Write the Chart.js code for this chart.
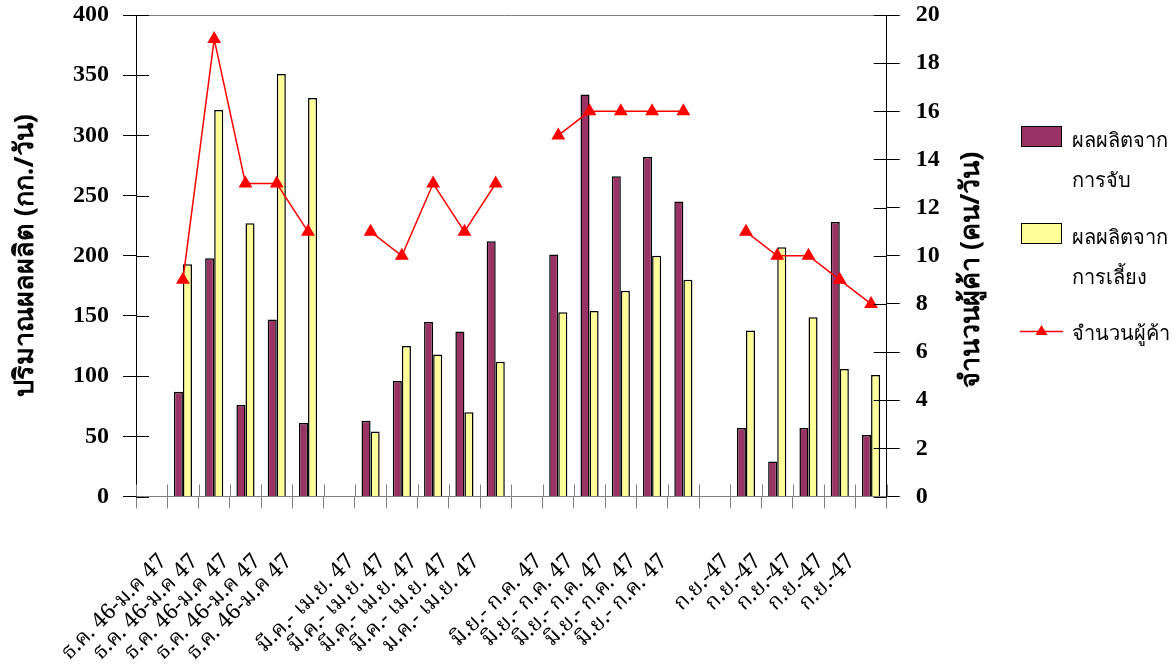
<!DOCTYPE html>
<html>
<head>
<meta charset="utf-8">
<script src="https://cdn.jsdelivr.net/npm/chart.js@4.4.0/dist/chart.umd.min.js"></script>
<style>
  html, body { margin: 0; padding: 0; background: #fff; }
  #wrap { position: relative; width: 1176px; height: 670px; }
  .sw { position: absolute; width: 39px; height: 19px; border: 1px solid #000; }
  .lt { position: absolute; font-family: "Noto Sans", "DejaVu Sans", sans-serif; font-size: 20px; line-height: 40px; color: #000; white-space: nowrap; }
</style>
</head>
<body>
<div id="wrap">
  <canvas id="chart" width="1176" height="670"></canvas>
  <div id="legend"></div>
</div>
<script>
// x categories (empty slots separate the four periods)
const categories = [
  '', 'ธ.ค. 46-ม.ค 47', 'ธ.ค. 46-ม.ค 47', 'ธ.ค. 46-ม.ค 47', 'ธ.ค. 46-ม.ค 47', 'ธ.ค. 46-ม.ค 47',
  '', 'มี.ค.- เม.ย. 47', 'มี.ค.- เม.ย. 47', 'มี.ค.- เม.ย. 47', 'มี.ค.- เม.ย. 47', 'ม.ค.- เม.ย. 47',
  '', 'มิ.ย.- ก.ค. 47', 'มิ.ย.- ก.ค. 47', 'มิ.ย.- ก.ค. 47', 'มิ.ย.- ก.ค. 47', 'มิ.ย.- ก.ค. 47',
  '', 'ก.ย.-47', 'ก.ย.-47', 'ก.ย.-47', 'ก.ย.-47', 'ก.ย.-47'
];
const catchOutput = [null, 87, 198, 76, 147, 61, null, 63, 96, 145, 137, 212, null, 201, 334, 266, 282, 245, null, 57, 29, 57, 228, 51];
const farmOutput  = [null, 193, 321, 227, 351, 331, null, 54, 125, 118, 70, 112, null, 153, 154, 171, 200, 180, null, 138, 207, 149, 106, 101];
const traders     = [null, 9, 19, 13, 13, 11, null, 11, 10, 13, 11, 13, null, 15, 16, 16, 16, 16, null, 11, 10, 10, 9, 8];

const legendLabels = [['ผลผลิตจาก', 'การจับ'], ['ผลผลิตจาก', 'การเลี้ยง'], ['จำนวนผู้ค้า']];
const leftTitle = 'ปริมาณผลผลิต (กก./วัน)';
const rightTitle = 'จำนวนผู้ค้า (คน/วัน)';

const numFont = { family: '"Liberation Serif", "Times New Roman", serif', size: 24, weight: 'bold' };
const titleFont = { family: '"Noto Sans", "DejaVu Sans", sans-serif', size: 27, weight: 'bold' };

// inward halves of the crossing tick marks, grey top border, right title read bottom-up
const crossTicks = {
  id: 'crossTicks',
  afterDraw(chart) {
    const ctx = chart.ctx, a = chart.chartArea;
    ctx.save();
    ctx.lineWidth = 1;
    ctx.strokeStyle = '#808080';
    ctx.beginPath();
    ctx.moveTo(a.left, a.top + 0.5);
    ctx.lineTo(a.right, a.top + 0.5);
    ctx.stroke();

    ctx.strokeStyle = '#000';
    const yl = chart.scales.y, yr = chart.scales.y1;
    ctx.beginPath();
    yl.ticks.forEach((t, i) => {
      const py = Math.round(yl.getPixelForTick(i)) + 0.5;
      ctx.moveTo(a.left, py); ctx.lineTo(a.left + 13, py);
    });
    yr.ticks.forEach((t, i) => {
      const py = Math.round(yr.getPixelForTick(i)) + 0.5;
      ctx.moveTo(a.right, py); ctx.lineTo(a.right - 13, py);
    });
    ctx.stroke();

    const xs = chart.scales.x;
    const step = xs.getPixelForTick(1) - xs.getPixelForTick(0);
    const x0 = xs.getPixelForTick(0) - step / 2;
    ctx.strokeStyle = '#808080';
    ctx.beginPath();
    for (let i = 0; i <= xs.ticks.length; i++) {
      const px = Math.round(x0 + i * step) + 0.5;
      ctx.moveTo(px, a.bottom); ctx.lineTo(px, a.bottom - 12);
    }
    ctx.stroke();

    ctx.translate(yr.right - 19, (a.top + a.bottom) / 2 + 14);
    ctx.rotate(-Math.PI / 2);
    ctx.fillStyle = '#000';
    ctx.textAlign = 'center';
    ctx.textBaseline = 'middle';
    ctx.font = 'bold 27px "Noto Sans", "DejaVu Sans", sans-serif';
    ctx.fillText(rightTitle, 0, 0);
    ctx.restore();
  }
};

new Chart(document.getElementById('chart'), {
  type: 'bar',
  data: {
    labels: categories,
    datasets: [
      {
        type: 'line',
        label: legendLabels[2].join(' '),
        data: traders,
        yAxisID: 'y1',
        borderColor: '#ff0000',
        backgroundColor: '#ff0000',
        borderWidth: 1.5,
        pointStyle: 'triangle',
        pointRadius: 6.5,
        pointBackgroundColor: '#ff0000',
        pointBorderColor: '#ff0000',
        spanGaps: false,
        tension: 0,
        order: 0
      },
      {
        label: legendLabels[0].join(''),
        data: catchOutput,
        yAxisID: 'y',
        backgroundColor: '#993366',
        borderColor: '#000',
        borderWidth: 1.5,
        categoryPercentage: 0.58,
        barPercentage: 1,
        order: 1
      },
      {
        label: legendLabels[1].join(''),
        data: farmOutput,
        yAxisID: 'y',
        backgroundColor: '#ffff99',
        borderColor: '#000',
        borderWidth: 1.5,
        categoryPercentage: 0.58,
        barPercentage: 1,
        order: 1
      }
    ]
  },
  options: {
    responsive: false,
    animation: false,
    layout: { padding: { left: 0, right: 186, top: 15, bottom: 0 } },
    plugins: { legend: { display: false }, tooltip: { enabled: false } },
    scales: {
      x: {
        offset: true,
        grid: { offset: true, drawOnChartArea: false, tickLength: 12, color: '#808080' },
        border: { color: '#808080' },
        ticks: {
          autoSkip: false, maxRotation: 45, minRotation: 45,
          labelOffset: -18, padding: 42, color: '#000',
          font: { family: '"Noto Serif Thai", "Noto Serif", "Noto Sans", serif', size: 22 }
        },
        afterFit(s) { s.height = 173.5; s.paddingTop = 0; }
      },
      y: {
        position: 'left',
        min: 0, max: 400,
        ticks: { stepSize: 50, color: '#000', padding: 14, font: numFont },
        grid: { drawOnChartArea: false, tickLength: 13, color: '#000' },
        border: { color: '#000' },
        title: { display: true, text: leftTitle, color: '#000', font: titleFont, padding: { top: 9, bottom: 0 } },
        afterFit(s) { s.width = 136; s.paddingTop = 0; }
      },
      y1: {
        position: 'right',
        min: 0, max: 20,
        ticks: { stepSize: 2, color: '#000', padding: 16, font: numFont },
        grid: { drawOnChartArea: false, tickLength: 13, color: '#000' },
        border: { color: '#000' },
        afterFit(s) { s.width = 103.3; s.paddingTop = 0; }
      }
    }
  },
  plugins: [crossTicks]
});

// legend on the right
const legend = document.getElementById('legend');
const swatchColors = ['#993366', '#ffff99'];
const itemTops = [120, 217, 313];
legendLabels.forEach((lines, i) => {
  const top = itemTops[i];
  if (i < 2) {
    const sw = document.createElement('div');
    sw.className = 'sw';
    sw.style.left = '1021px';
    sw.style.top = (top + 6) + 'px';
    sw.style.background = swatchColors[i];
    legend.appendChild(sw);
  } else {
    const svg = document.createElementNS('http://www.w3.org/2000/svg', 'svg');
    svg.setAttribute('width', '44');
    svg.setAttribute('height', '16');
    svg.style.position = 'absolute';
    svg.style.left = '1020px';
    svg.style.top = (top + 10) + 'px';
    svg.innerHTML = '<line x1="0" y1="8.5" x2="43" y2="8.5" stroke="#ff0000" stroke-width="1.5"/>' +
      '<polygon points="21.5,2 27.5,12 15.5,12" fill="#ff0000"/>';
    legend.appendChild(svg);
  }
  const t = document.createElement('div');
  t.className = 'lt';
  t.style.left = '1072px';
  t.style.top = top + 'px';
  t.innerHTML = lines.join('<br>');
  legend.appendChild(t);
});
</script>
</body>
</html>
